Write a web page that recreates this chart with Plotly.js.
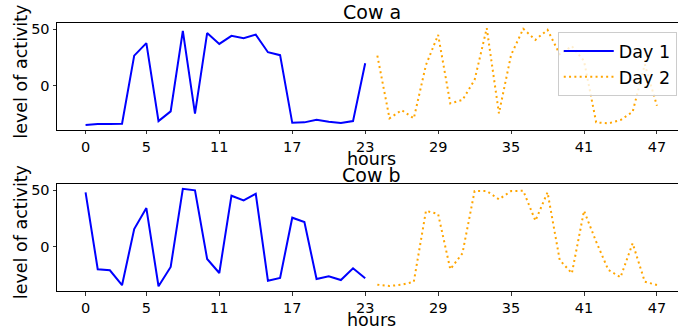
<!DOCTYPE html>
<html>
<head>
<meta charset="utf-8">
<script src="https://cdn.plot.ly/plotly-3.0.1.min.js"></script>
<style>html,body{margin:0;padding:0;background:#fff;}#chart{width:678px;height:335px;}</style>
</head>
<body>
<div id="chart"></div>
<script>
const hoursDay1 = [0,1,2,3,4,5,6,7,8,9,10,11,12,13,14,15,16,17,18,19,20,21,22,23];
const hoursDay2 = [24,25,26,27,28,29,30,31,32,33,34,35,36,37,38,39,40,41,42,43,44,45,46,47];
const cowA_day1 = [-34.4,-33.5,-33.5,-33.2,26.7,37.7,-30.9,-22.3,48.5,-24.4,46.5,37,44.1,42.1,45.2,29.7,27.1,-32.4,-32,-29.7,-31.5,-32.6,-30.9,20];
const cowA_day2 = [26.7,-28.5,-21.2,-28.5,18.5,45,-15.3,-12.3,5.3,50.9,-24.1,27.3,50.3,40.6,49.4,28,35,22,-32,-32.9,-30,-22.7,19,-17.4];
const cowB_day1 = [48,-19.9,-20.8,-34,15.6,34.1,-34.9,-17.9,51.1,49.7,-10.8,-23.2,45,40.9,46.7,-30,-27.6,25.6,21.8,-28.5,-26.1,-29.4,-19,-27.9];
const cowB_day2 = [-33.5,-34.7,-33.5,-30.9,31.7,28.8,-19.9,-5.8,49.1,49.1,41.8,49.1,49.4,22.9,48,-11.7,-23.5,31.7,4.4,-20.5,-27,3,-30.9,-33.8];
const xTicks = [0,5,11,17,23,29,35,41,47];
const yTicks = [0,50];
const subplotTitles = ["Cow a","Cow b"];
const xLabel = "hours";
const yLabel = "level of activity";
const seriesNames = ["Day 1","Day 2"];

const FONT = "DejaVu Sans, Liberation Sans, sans-serif";
const blue = "#0000ff", orange = "#ffa500";

const traces = [
  {x: hoursDay1, y: cowA_day1, name: seriesNames[0], mode: "lines", line: {color: blue, width: 2}, xaxis: "x", yaxis: "y"},
  {x: hoursDay2, y: cowA_day2, name: seriesNames[1], mode: "lines", line: {color: orange, width: 2, dash: "2px,3.3px"}, xaxis: "x", yaxis: "y"},
  {x: hoursDay1, y: cowB_day1, name: seriesNames[0], mode: "lines", line: {color: blue, width: 2}, xaxis: "x2", yaxis: "y2", showlegend: false},
  {x: hoursDay2, y: cowB_day2, name: seriesNames[1], mode: "lines", line: {color: orange, width: 2, dash: "2px,3.3px"}, xaxis: "x2", yaxis: "y2", showlegend: false}
];

function xax(anchor) {
  return {
    domain: [0, 1], anchor: anchor, range: [-2.35, 48.73],
    tickmode: "array", tickvals: xTicks, ticktext: xTicks.map(String),
    ticks: "outside", ticklen: 3.5, tickwidth: 0.8, tickcolor: "#000",
    showline: true, mirror: true, linecolor: "#000", linewidth: 1,
    showgrid: false, zeroline: false, automargin: false,
    tickfont: {family: FONT, size: 14.5, color: "#000"}
  };
}
function yax(anchor, dom, rng) {
  return {
    domain: dom, anchor: anchor, range: rng,
    tickmode: "array", tickvals: yTicks, ticktext: yTicks.map(String),
    ticks: "outside", ticklen: 3.5, tickwidth: 0.8, tickcolor: "#000",
    showline: true, mirror: false, linecolor: "#000", linewidth: 1,
    showgrid: false, zeroline: false, automargin: false,
    tickfont: {family: FONT, size: 14.5, color: "#000"}
  };
}

const annFont = {family: FONT, size: 17.5, color: "#000"};
const layout = {
  width: 678, height: 335,
  margin: {l: 57, r: 0, t: 0, b: 0, pad: 0},
  paper_bgcolor: "#fff", plot_bgcolor: "#fff",
  showlegend: true,
  xaxis: xax("y"),
  yaxis: yax("x", [0.612, 0.932], [-38.7, 55.6]),
  xaxis2: xax("y2"),
  yaxis2: yax("x2", [0.131, 0.451], [-39.2, 55.4]),
  legend: {
    x: 0.998, xanchor: "right", y: 0.904, yanchor: "top",
    bgcolor: "rgba(255,255,255,0.8)", bordercolor: "#cccccc", borderwidth: 1,
    font: {family: FONT, size: 17.5, color: "#000"},
    itemwidth: 50, tracegroupgap: 0
  },
  annotations: [
    {text: subplotTitles[0], xref: "paper", yref: "paper", x: 0.507, y: 0.963, xanchor: "center", yanchor: "middle", showarrow: false, borderpad: 0, font: {family: FONT, size: 19, color: "#000"}},
    {text: subplotTitles[1], xref: "paper", yref: "paper", x: 0.507, y: 0.478, xanchor: "center", yanchor: "middle", showarrow: false, borderpad: 0, font: {family: FONT, size: 19, color: "#000"}},
    {text: xLabel, xref: "paper", yref: "paper", x: 0.507, y: 0.524, xanchor: "center", yanchor: "middle", showarrow: false, borderpad: 0, font: annFont},
    {text: xLabel, xref: "paper", yref: "paper", x: 0.507, y: 0.045, xanchor: "center", yanchor: "middle", showarrow: false, borderpad: 0, font: annFont},
    {text: yLabel, xref: "paper", yref: "paper", x: -0.058, y: 0.786, xanchor: "center", yanchor: "middle", textangle: -90, showarrow: false, borderpad: 0, font: annFont},
    {text: yLabel, xref: "paper", yref: "paper", x: -0.058, y: 0.307, xanchor: "center", yanchor: "middle", textangle: -90, showarrow: false, borderpad: 0, font: annFont}
  ]
};

Plotly.newPlot("chart", traces, layout, {staticPlot: true, displayModeBar: false});
</script>
</body>
</html>
